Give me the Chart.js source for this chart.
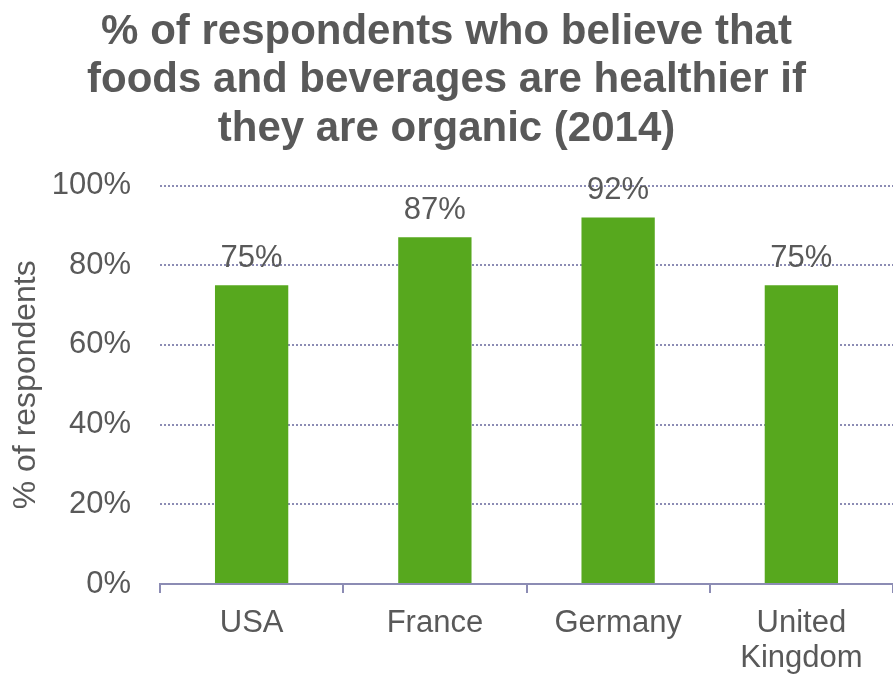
<!DOCTYPE html>
<html>
<head>
<meta charset="utf-8">
<script src="https://cdn.jsdelivr.net/npm/chart.js@4/dist/chart.umd.min.js"></script>
<style>
  html, body { margin: 0; padding: 0; background: #ffffff; }
  #wrap { width: 893px; height: 675px; }
</style>
</head>
<body>
<div id="wrap"><canvas id="c" width="893" height="675"></canvas></div>
<script>
// Share of respondents who think organic food & drink is healthier, 2014
const countries = ["USA", "France", "Germany", ["United", "Kingdom"]];
const shares = [75, 87, 92, 75];
const yTicks = [0, 20, 40, 60, 80, 100];
const titleLines = [
  "% of respondents who believe that",
  "foods and beverages are healthier if",
  "they are organic (2014)"
];
const yAxisTitle = "% of respondents";

const TEXT = "#595959";
const AXIS = "#8c8cb4";
const FONT = "'Liberation Sans', Arial, sans-serif";

// Writes each bar's value just above it
const valueLabels = {
  id: "valueLabels",
  afterDatasetsDraw(chart) {
    const ctx = chart.ctx;
    const meta = chart.getDatasetMeta(0);
    ctx.save();
    ctx.font = "31px " + FONT;
    ctx.fillStyle = TEXT;
    ctx.textAlign = "center";
    ctx.textBaseline = "bottom";
    meta.data.forEach((bar, i) => {
      ctx.fillText(shares[i] + "%", bar.x, bar.y - 11);
    });
    ctx.restore();
  }
};

new Chart(document.getElementById("c"), {
  type: "bar",
  data: {
    labels: countries,
    datasets: [{
      data: shares,
      backgroundColor: "#57a81e",
      borderWidth: 0,
      barPercentage: 0.4,
      categoryPercentage: 1.0
    }]
  },
  options: {
    responsive: false,
    animation: false,
    layout: { padding: 0 },
    plugins: {
      legend: { display: false },
      tooltip: { enabled: false },
      title: {
        display: true,
        text: titleLines,
        color: TEXT,
        font: { family: FONT, size: 42, weight: "bold", lineHeight: 1.155 },
        padding: { top: 8, bottom: 32 }
      }
    },
    scales: {
      x: {
        afterFit(scale) {
          scale.height = 91;
        },
        grid: {
          offset: true,
          drawOnChartArea: false,
          drawTicks: true,
          tickLength: 9,
          color: AXIS,
          lineWidth: 2
        },
        border: { display: true, color: AXIS, width: 2 },
        ticks: {
          color: TEXT,
          font: { family: FONT, size: 31, lineHeight: 1.13 },
          padding: 13,
          maxRotation: 0,
          autoSkip: false
        }
      },
      y: {
        min: 0,
        max: 100,
        afterBuildTicks(scale) {
          scale.ticks = yTicks.map(v => ({ value: v }));
        },
        afterFit(scale) {
          scale.width = 160;
        },
        grid: {
          drawTicks: false,
          color: ctx => (ctx.tick && ctx.tick.value === 0) ? "rgba(0,0,0,0)" : AXIS,
          lineWidth: 2
        },
        border: { display: false, dash: [2, 2] },
        ticks: {
          color: TEXT,
          font: { family: FONT, size: 31 },
          padding: 29,
          callback: v => v + "%"
        },
        title: {
          display: true,
          text: yAxisTitle,
          color: TEXT,
          font: { family: FONT, size: 32 },
          padding: { top: 7, bottom: 0 }
        }
      }
    }
  },
  plugins: [valueLabels]
});
</script>
</body>
</html>
